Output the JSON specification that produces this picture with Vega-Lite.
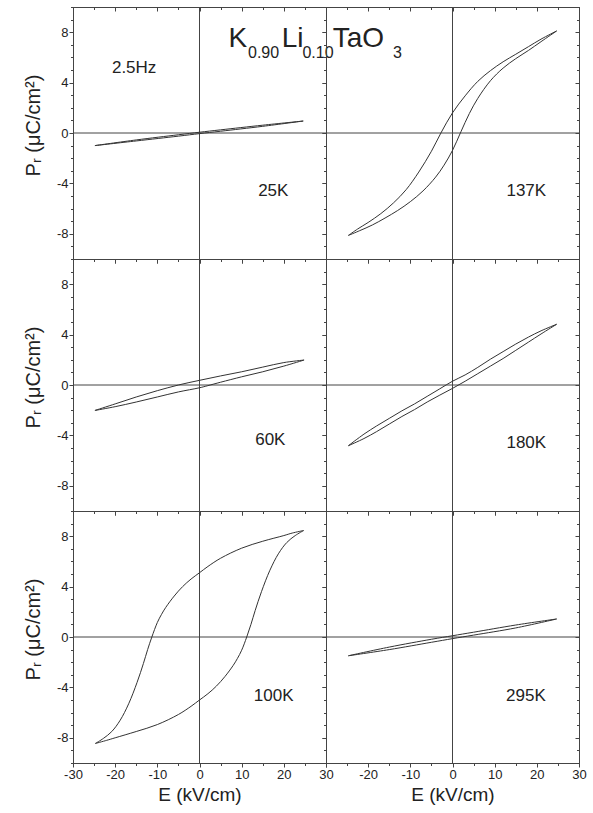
{
  "$schema": "https://vega.github.io/schema/vega-lite/v6.json",
  "background": "white",
  "padding": {"left": 22, "top": 0, "right": 5, "bottom": 5},
  "datasets": {
    "loops": [
      {"T":"25K","branch":"u","i":0,"E":24.6,"P":0.95},
      {"T":"25K","branch":"u","i":1,"E":15,"P":0.62},
      {"T":"25K","branch":"u","i":2,"E":5,"P":0.25},
      {"T":"25K","branch":"u","i":3,"E":0,"P":0.06},
      {"T":"25K","branch":"u","i":4,"E":-5,"P":-0.14},
      {"T":"25K","branch":"u","i":5,"E":-15,"P":-0.55},
      {"T":"25K","branch":"u","i":6,"E":-24.8,"P":-1.0},
      {"T":"25K","branch":"l","i":7,"E":-24.8,"P":-1.0},
      {"T":"25K","branch":"l","i":8,"E":-15,"P":-0.63},
      {"T":"25K","branch":"l","i":9,"E":-5,"P":-0.25},
      {"T":"25K","branch":"l","i":10,"E":0,"P":-0.05},
      {"T":"25K","branch":"l","i":11,"E":5,"P":0.14},
      {"T":"25K","branch":"l","i":12,"E":15,"P":0.53},
      {"T":"25K","branch":"l","i":13,"E":24.6,"P":0.95},

      {"T":"60K","branch":"u","i":0,"E":24.8,"P":1.98},
      {"T":"60K","branch":"u","i":1,"E":20,"P":1.78},
      {"T":"60K","branch":"u","i":2,"E":15,"P":1.42},
      {"T":"60K","branch":"u","i":3,"E":10,"P":1.05},
      {"T":"60K","branch":"u","i":4,"E":5,"P":0.72},
      {"T":"60K","branch":"u","i":5,"E":0,"P":0.37},
      {"T":"60K","branch":"u","i":6,"E":-5,"P":0.0},
      {"T":"60K","branch":"u","i":7,"E":-10,"P":-0.45},
      {"T":"60K","branch":"u","i":8,"E":-15,"P":-0.95},
      {"T":"60K","branch":"u","i":9,"E":-20,"P":-1.5},
      {"T":"60K","branch":"u","i":10,"E":-24.8,"P":-2.02},
      {"T":"60K","branch":"l","i":11,"E":-24.8,"P":-2.02},
      {"T":"60K","branch":"l","i":12,"E":-20,"P":-1.72},
      {"T":"60K","branch":"l","i":13,"E":-15,"P":-1.35},
      {"T":"60K","branch":"l","i":14,"E":-10,"P":-0.95},
      {"T":"60K","branch":"l","i":15,"E":-5,"P":-0.55},
      {"T":"60K","branch":"l","i":16,"E":0,"P":-0.22},
      {"T":"60K","branch":"l","i":17,"E":2,"P":-0.05},
      {"T":"60K","branch":"l","i":18,"E":5,"P":0.22},
      {"T":"60K","branch":"l","i":19,"E":10,"P":0.65},
      {"T":"60K","branch":"l","i":20,"E":15,"P":1.05},
      {"T":"60K","branch":"l","i":21,"E":20,"P":1.5},
      {"T":"60K","branch":"l","i":22,"E":24.8,"P":1.98},

      {"T":"100K","branch":"u","i":0,"E":24.7,"P":8.45},
      {"T":"100K","branch":"u","i":1,"E":22,"P":8.25},
      {"T":"100K","branch":"u","i":2,"E":20,"P":8.05},
      {"T":"100K","branch":"u","i":3,"E":15,"P":7.6},
      {"T":"100K","branch":"u","i":4,"E":10,"P":7.05},
      {"T":"100K","branch":"u","i":5,"E":5,"P":6.25},
      {"T":"100K","branch":"u","i":6,"E":2,"P":5.6},
      {"T":"100K","branch":"u","i":7,"E":0,"P":5.1},
      {"T":"100K","branch":"u","i":8,"E":-2,"P":4.6},
      {"T":"100K","branch":"u","i":9,"E":-4,"P":4.0},
      {"T":"100K","branch":"u","i":10,"E":-6,"P":3.25},
      {"T":"100K","branch":"u","i":11,"E":-8,"P":2.35},
      {"T":"100K","branch":"u","i":12,"E":-9,"P":1.8},
      {"T":"100K","branch":"u","i":13,"E":-10,"P":1.15},
      {"T":"100K","branch":"u","i":14,"E":-11.3,"P":0},
      {"T":"100K","branch":"u","i":15,"E":-12.3,"P":-1.0},
      {"T":"100K","branch":"u","i":16,"E":-13.3,"P":-2.1},
      {"T":"100K","branch":"u","i":17,"E":-14.8,"P":-3.6},
      {"T":"100K","branch":"u","i":18,"E":-16.8,"P":-5.3},
      {"T":"100K","branch":"u","i":19,"E":-18.8,"P":-6.6},
      {"T":"100K","branch":"u","i":20,"E":-20.8,"P":-7.5},
      {"T":"100K","branch":"u","i":21,"E":-22.8,"P":-8.05},
      {"T":"100K","branch":"u","i":22,"E":-24.7,"P":-8.45},
      {"T":"100K","branch":"l","i":23,"E":-24.7,"P":-8.45},
      {"T":"100K","branch":"l","i":24,"E":-22,"P":-8.2},
      {"T":"100K","branch":"l","i":25,"E":-20,"P":-8.0},
      {"T":"100K","branch":"l","i":26,"E":-15,"P":-7.5},
      {"T":"100K","branch":"l","i":27,"E":-10,"P":-6.95},
      {"T":"100K","branch":"l","i":28,"E":-5,"P":-6.15},
      {"T":"100K","branch":"l","i":29,"E":-2,"P":-5.5},
      {"T":"100K","branch":"l","i":30,"E":0,"P":-5.0},
      {"T":"100K","branch":"l","i":31,"E":2,"P":-4.5},
      {"T":"100K","branch":"l","i":32,"E":4,"P":-3.9},
      {"T":"100K","branch":"l","i":33,"E":6,"P":-3.15},
      {"T":"100K","branch":"l","i":34,"E":8,"P":-2.25},
      {"T":"100K","branch":"l","i":35,"E":9,"P":-1.7},
      {"T":"100K","branch":"l","i":36,"E":10,"P":-1.05},
      {"T":"100K","branch":"l","i":37,"E":11.2,"P":0},
      {"T":"100K","branch":"l","i":38,"E":12.2,"P":1.0},
      {"T":"100K","branch":"l","i":39,"E":13.2,"P":2.1},
      {"T":"100K","branch":"l","i":40,"E":14.7,"P":3.6},
      {"T":"100K","branch":"l","i":41,"E":16.7,"P":5.3},
      {"T":"100K","branch":"l","i":42,"E":18.7,"P":6.6},
      {"T":"100K","branch":"l","i":43,"E":20.7,"P":7.5},
      {"T":"100K","branch":"l","i":44,"E":22.7,"P":8.05},
      {"T":"100K","branch":"l","i":45,"E":24.7,"P":8.45},

      {"T":"137K","branch":"u","i":0,"E":24.7,"P":8.1},
      {"T":"137K","branch":"u","i":1,"E":21,"P":7.45},
      {"T":"137K","branch":"u","i":2,"E":18,"P":6.85},
      {"T":"137K","branch":"u","i":3,"E":15,"P":6.25},
      {"T":"137K","branch":"u","i":4,"E":12,"P":5.65},
      {"T":"137K","branch":"u","i":5,"E":9,"P":4.95},
      {"T":"137K","branch":"u","i":6,"E":6,"P":4.1},
      {"T":"137K","branch":"u","i":7,"E":3,"P":2.95},
      {"T":"137K","branch":"u","i":8,"E":0,"P":1.6},
      {"T":"137K","branch":"u","i":9,"E":-2.75,"P":0},
      {"T":"137K","branch":"u","i":10,"E":-5,"P":-1.45},
      {"T":"137K","branch":"u","i":11,"E":-8,"P":-3.1},
      {"T":"137K","branch":"u","i":12,"E":-11,"P":-4.5},
      {"T":"137K","branch":"u","i":13,"E":-14,"P":-5.55},
      {"T":"137K","branch":"u","i":14,"E":-17,"P":-6.4},
      {"T":"137K","branch":"u","i":15,"E":-20,"P":-7.1},
      {"T":"137K","branch":"u","i":16,"E":-22.5,"P":-7.62},
      {"T":"137K","branch":"u","i":17,"E":-24.7,"P":-8.13},
      {"T":"137K","branch":"l","i":18,"E":-24.7,"P":-8.13},
      {"T":"137K","branch":"l","i":19,"E":-22,"P":-7.75},
      {"T":"137K","branch":"l","i":20,"E":-19,"P":-7.3},
      {"T":"137K","branch":"l","i":21,"E":-16,"P":-6.75},
      {"T":"137K","branch":"l","i":22,"E":-13,"P":-6.15},
      {"T":"137K","branch":"l","i":23,"E":-10,"P":-5.45},
      {"T":"137K","branch":"l","i":24,"E":-7,"P":-4.6},
      {"T":"137K","branch":"l","i":25,"E":-4,"P":-3.5},
      {"T":"137K","branch":"l","i":26,"E":-2,"P":-2.55},
      {"T":"137K","branch":"l","i":27,"E":0,"P":-1.38},
      {"T":"137K","branch":"l","i":28,"E":2,"P":0.1},
      {"T":"137K","branch":"l","i":29,"E":4,"P":1.55},
      {"T":"137K","branch":"l","i":30,"E":6,"P":2.75},
      {"T":"137K","branch":"l","i":31,"E":9,"P":4.15},
      {"T":"137K","branch":"l","i":32,"E":12,"P":5.15},
      {"T":"137K","branch":"l","i":33,"E":15,"P":5.9},
      {"T":"137K","branch":"l","i":34,"E":18,"P":6.55},
      {"T":"137K","branch":"l","i":35,"E":21,"P":7.25},
      {"T":"137K","branch":"l","i":36,"E":24.7,"P":8.1},

      {"T":"180K","branch":"u","i":0,"E":24.7,"P":4.82},
      {"T":"180K","branch":"u","i":1,"E":21,"P":4.3},
      {"T":"180K","branch":"u","i":2,"E":18,"P":3.8},
      {"T":"180K","branch":"u","i":3,"E":15,"P":3.25},
      {"T":"180K","branch":"u","i":4,"E":12,"P":2.65},
      {"T":"180K","branch":"u","i":5,"E":9,"P":2.05},
      {"T":"180K","branch":"u","i":6,"E":6,"P":1.4},
      {"T":"180K","branch":"u","i":7,"E":3,"P":0.8},
      {"T":"180K","branch":"u","i":8,"E":0,"P":0.3},
      {"T":"180K","branch":"u","i":9,"E":-3,"P":-0.3},
      {"T":"180K","branch":"u","i":10,"E":-6,"P":-0.9},
      {"T":"180K","branch":"u","i":11,"E":-9,"P":-1.5},
      {"T":"180K","branch":"u","i":12,"E":-12,"P":-2.05},
      {"T":"180K","branch":"u","i":13,"E":-15,"P":-2.65},
      {"T":"180K","branch":"u","i":14,"E":-18,"P":-3.25},
      {"T":"180K","branch":"u","i":15,"E":-21,"P":-3.9},
      {"T":"180K","branch":"u","i":16,"E":-24.7,"P":-4.82},
      {"T":"180K","branch":"l","i":17,"E":-24.7,"P":-4.82},
      {"T":"180K","branch":"l","i":18,"E":-21,"P":-4.25},
      {"T":"180K","branch":"l","i":19,"E":-18,"P":-3.7},
      {"T":"180K","branch":"l","i":20,"E":-15,"P":-3.1},
      {"T":"180K","branch":"l","i":21,"E":-12,"P":-2.5},
      {"T":"180K","branch":"l","i":22,"E":-9,"P":-1.95},
      {"T":"180K","branch":"l","i":23,"E":-6,"P":-1.35},
      {"T":"180K","branch":"l","i":24,"E":-3,"P":-0.8},
      {"T":"180K","branch":"l","i":25,"E":0,"P":-0.27},
      {"T":"180K","branch":"l","i":26,"E":3,"P":0.3},
      {"T":"180K","branch":"l","i":27,"E":6,"P":0.9},
      {"T":"180K","branch":"l","i":28,"E":9,"P":1.5},
      {"T":"180K","branch":"l","i":29,"E":12,"P":2.1},
      {"T":"180K","branch":"l","i":30,"E":15,"P":2.75},
      {"T":"180K","branch":"l","i":31,"E":18,"P":3.4},
      {"T":"180K","branch":"l","i":32,"E":21,"P":4.05},
      {"T":"180K","branch":"l","i":33,"E":24.7,"P":4.82},

      {"T":"295K","branch":"u","i":0,"E":24.7,"P":1.43},
      {"T":"295K","branch":"u","i":1,"E":15,"P":0.95},
      {"T":"295K","branch":"u","i":2,"E":5,"P":0.38},
      {"T":"295K","branch":"u","i":3,"E":0,"P":0.1},
      {"T":"295K","branch":"u","i":4,"E":-5,"P":-0.18},
      {"T":"295K","branch":"u","i":5,"E":-15,"P":-0.8},
      {"T":"295K","branch":"u","i":6,"E":-24.7,"P":-1.49},
      {"T":"295K","branch":"l","i":7,"E":-24.7,"P":-1.49},
      {"T":"295K","branch":"l","i":8,"E":-15,"P":-1.0},
      {"T":"295K","branch":"l","i":9,"E":-5,"P":-0.42},
      {"T":"295K","branch":"l","i":10,"E":0,"P":-0.13},
      {"T":"295K","branch":"l","i":11,"E":5,"P":0.15},
      {"T":"295K","branch":"l","i":12,"E":15,"P":0.72},
      {"T":"295K","branch":"l","i":13,"E":24.7,"P":1.43}
    ]
  },
  "config": {
    "view": {"stroke": "#444", "strokeWidth": 1},
    "concat": {"spacing": 0},
    "axis": {
      "grid": false,
      "domainColor": "#444",
      "tickColor": "#444",
      "labelColor": "#222",
      "labelFont": "Liberation Sans",
      "labelFontSize": 13,
      "titleFont": "Liberation Sans",
      "titleFontSize": 19,
      "titleFontWeight": "normal",
      "titleColor": "#222",
      "labelFlush": false,
      "labelOverlap": false,
      "labelPadding": 1
    }
  },
  "columns": 2,
  "spacing": 0,
  "bounds": "flush",
  "concat": [
    {
      "width": 253, "height": 252,
      "resolve": {"axis": {"x": "independent", "y": "independent"}},
      "layer": [
        {"data": {"values": [{}]}, "mark": {"type": "rule", "color": "#444", "strokeWidth": 1},
         "encoding": {"y": {"datum": 0, "type": "quantitative", "scale": {"domain": [-10, 10], "nice": false, "zero": false},
           "axis": {"orient": "right", "values": [-10,-9,-8,-7,-6,-5,-4,-3,-2,-1,0,1,2,3,4,5,6,7,8,9,10], "tickSize": {"condition": {"test": "datum.value % 4 === 0", "value": -4}, "value": -2.5}, "labels": false, "title": null}}}},
        {"data": {"values": [{}]}, "mark": {"type": "rule", "color": "#444", "strokeWidth": 1},
         "encoding": {"x": {"datum": 0, "type": "quantitative", "scale": {"domain": [-30, 30], "nice": false, "zero": false},
           "axis": {"orient": "top", "values": [-30,-25,-20,-15,-10,-5,0,5,10,15,20,25,30], "tickSize": {"condition": {"test": "datum.value % 10 === 0", "value": -4}, "value": -2.5}, "labels": false, "title": null}}}},
        {"data": {"name": "loops"}, "transform": [{"filter": "datum.T === '25K'"}],
         "mark": {"type": "line", "color": "#333", "strokeWidth": 1, "interpolate": "catmull-rom"},
         "encoding": {
           "x": {"field": "E", "type": "quantitative", "scale": {"domain": [-30, 30], "nice": false, "zero": false},
             "axis": {"orient": "bottom", "values": [-30,-25,-20,-15,-10,-5,0,5,10,15,20,25,30], "tickSize": {"condition": {"test": "datum.value % 10 === 0", "value": 4}, "value": 2.5}, "labels": false, "title": null}},
           "y": {"field": "P", "type": "quantitative", "scale": {"domain": [-10, 10], "nice": false, "zero": false},
             "axis": {"orient": "left", "values": [-10,-9,-8,-7,-6,-5,-4,-3,-2,-1,0,1,2,3,4,5,6,7,8,9,10], "tickSize": {"condition": {"test": "datum.value % 4 === 0", "value": 4}, "value": 2.5}, "labelExpr": "datum.value % 4 === 0 ? '' + datum.value : ''", "title": "Pᵣ (μC/cm²)", "titleFontSize": 20, "titlePadding": 13, "titleY": 118}},
           "detail": {"field": "branch"},
           "order": {"field": "i"}
         }},
        {"data": {"values": [{}]}, "mark": {"type": "text", "text": "2.5Hz", "font": "Liberation Sans", "fontSize": 17, "color": "#222", "align": "center", "baseline": "alphabetic"},
         "encoding": {"x": {"datum": -15.5, "type": "quantitative", "axis": null}, "y": {"datum": 4.8, "type": "quantitative", "axis": null}}},
        {"data": {"values": [{}]}, "mark": {"type": "text", "text": "25K", "font": "Liberation Sans", "fontSize": 17, "color": "#222", "align": "center", "baseline": "alphabetic"},
         "encoding": {"x": {"datum": 17.5, "type": "quantitative", "axis": null}, "y": {"datum": -5, "type": "quantitative", "axis": null}}},
        {"data": {"values": [{}]}, "mark": {"type": "text", "text": "K", "font": "Liberation Sans", "fontSize": 28, "color": "#222", "align": "left", "baseline": "alphabetic"},
         "encoding": {"x": {"datum": 6.9, "type": "quantitative", "axis": null}, "y": {"datum": 6.84, "type": "quantitative", "axis": null}}},
        {"data": {"values": [{}]}, "mark": {"type": "text", "text": "0.90", "font": "Liberation Sans", "fontSize": 16, "color": "#222", "align": "left", "baseline": "alphabetic"},
         "encoding": {"x": {"datum": 11.5, "type": "quantitative", "axis": null}, "y": {"datum": 5.99, "type": "quantitative", "axis": null}}},
        {"data": {"values": [{}]}, "mark": {"type": "text", "text": "Li", "font": "Liberation Sans", "fontSize": 28, "color": "#222", "align": "left", "baseline": "alphabetic"},
         "encoding": {"x": {"datum": 19.5, "type": "quantitative", "axis": null}, "y": {"datum": 6.84, "type": "quantitative", "axis": null}}},
        {"data": {"values": [{}]}, "mark": {"type": "text", "text": "0.10", "font": "Liberation Sans", "fontSize": 16, "color": "#222", "align": "left", "baseline": "alphabetic"},
         "encoding": {"x": {"datum": 24.4, "type": "quantitative", "axis": null}, "y": {"datum": 5.99, "type": "quantitative", "axis": null}}},
        {"data": {"values": [{}]}, "mark": {"type": "text", "text": "TaO", "font": "Liberation Sans", "fontSize": 28, "color": "#222", "align": "left", "baseline": "alphabetic"},
         "encoding": {"x": {"datum": 31.6, "type": "quantitative", "axis": null}, "y": {"datum": 6.84, "type": "quantitative", "axis": null}}},
        {"data": {"values": [{}]}, "mark": {"type": "text", "text": "3", "font": "Liberation Sans", "fontSize": 16, "color": "#222", "align": "left", "baseline": "alphabetic"},
         "encoding": {"x": {"datum": 45.9, "type": "quantitative", "axis": null}, "y": {"datum": 5.99, "type": "quantitative", "axis": null}}}
      ]
    },
    {
      "width": 253, "height": 252,
      "resolve": {"axis": {"x": "independent", "y": "independent"}},
      "layer": [
        {"data": {"values": [{}]}, "mark": {"type": "rule", "color": "#444", "strokeWidth": 1},
         "encoding": {"y": {"datum": 0, "type": "quantitative", "scale": {"domain": [-10, 10], "nice": false, "zero": false},
           "axis": {"orient": "right", "values": [-10,-9,-8,-7,-6,-5,-4,-3,-2,-1,0,1,2,3,4,5,6,7,8,9,10], "tickSize": {"condition": {"test": "datum.value % 4 === 0", "value": -4}, "value": -2.5}, "labels": false, "title": null}}}},
        {"data": {"values": [{}]}, "mark": {"type": "rule", "color": "#444", "strokeWidth": 1},
         "encoding": {"x": {"datum": 0, "type": "quantitative", "scale": {"domain": [-30, 30], "nice": false, "zero": false},
           "axis": {"orient": "top", "values": [-30,-25,-20,-15,-10,-5,0,5,10,15,20,25,30], "tickSize": {"condition": {"test": "datum.value % 10 === 0", "value": -4}, "value": -2.5}, "labels": false, "title": null}}}},
        {"data": {"name": "loops"}, "transform": [{"filter": "datum.T === '137K'"}],
         "mark": {"type": "line", "color": "#333", "strokeWidth": 1, "interpolate": "catmull-rom"},
         "encoding": {
           "x": {"field": "E", "type": "quantitative", "scale": {"domain": [-30, 30], "nice": false, "zero": false},
             "axis": {"orient": "bottom", "values": [-30,-25,-20,-15,-10,-5,0,5,10,15,20,25,30], "tickSize": {"condition": {"test": "datum.value % 10 === 0", "value": 4}, "value": 2.5}, "labels": false, "title": null}},
           "y": {"field": "P", "type": "quantitative", "scale": {"domain": [-10, 10], "nice": false, "zero": false},
             "axis": {"orient": "left", "values": [-10,-9,-8,-7,-6,-5,-4,-3,-2,-1,0,1,2,3,4,5,6,7,8,9,10], "tickSize": {"condition": {"test": "datum.value % 4 === 0", "value": 4}, "value": 2.5}, "labels": false, "title": null}},
           "detail": {"field": "branch"},
           "order": {"field": "i"}
         }},
        {"data": {"values": [{}]}, "mark": {"type": "text", "text": "137K", "font": "Liberation Sans", "fontSize": 17, "color": "#222", "align": "center", "baseline": "alphabetic"},
         "encoding": {"x": {"datum": 17.5, "type": "quantitative", "axis": null}, "y": {"datum": -5, "type": "quantitative", "axis": null}}}
      ]
    },
    {
      "width": 253, "height": 252,
      "resolve": {"axis": {"x": "independent", "y": "independent"}},
      "layer": [
        {"data": {"values": [{}]}, "mark": {"type": "rule", "color": "#444", "strokeWidth": 1},
         "encoding": {"y": {"datum": 0, "type": "quantitative", "scale": {"domain": [-10, 10], "nice": false, "zero": false},
           "axis": {"orient": "right", "values": [-10,-9,-8,-7,-6,-5,-4,-3,-2,-1,0,1,2,3,4,5,6,7,8,9,10], "tickSize": {"condition": {"test": "datum.value % 4 === 0", "value": -4}, "value": -2.5}, "labels": false, "title": null}}}},
        {"data": {"values": [{}]}, "mark": {"type": "rule", "color": "#444", "strokeWidth": 1},
         "encoding": {"x": {"datum": 0, "type": "quantitative", "scale": {"domain": [-30, 30], "nice": false, "zero": false},
           "axis": {"orient": "top", "values": [-30,-25,-20,-15,-10,-5,0,5,10,15,20,25,30], "tickSize": {"condition": {"test": "datum.value % 10 === 0", "value": -4}, "value": -2.5}, "labels": false, "title": null}}}},
        {"data": {"name": "loops"}, "transform": [{"filter": "datum.T === '60K'"}],
         "mark": {"type": "line", "color": "#333", "strokeWidth": 1, "interpolate": "catmull-rom"},
         "encoding": {
           "x": {"field": "E", "type": "quantitative", "scale": {"domain": [-30, 30], "nice": false, "zero": false},
             "axis": {"orient": "bottom", "values": [-30,-25,-20,-15,-10,-5,0,5,10,15,20,25,30], "tickSize": {"condition": {"test": "datum.value % 10 === 0", "value": 4}, "value": 2.5}, "labels": false, "title": null}},
           "y": {"field": "P", "type": "quantitative", "scale": {"domain": [-10, 10], "nice": false, "zero": false},
             "axis": {"orient": "left", "values": [-10,-9,-8,-7,-6,-5,-4,-3,-2,-1,0,1,2,3,4,5,6,7,8,9,10], "tickSize": {"condition": {"test": "datum.value % 4 === 0", "value": 4}, "value": 2.5}, "labelExpr": "datum.value % 4 === 0 ? '' + datum.value : ''", "title": "Pᵣ (μC/cm²)", "titleFontSize": 20, "titlePadding": 13, "titleY": 118}},
           "detail": {"field": "branch"},
           "order": {"field": "i"}
         }},
        {"data": {"values": [{}]}, "mark": {"type": "text", "text": "60K", "font": "Liberation Sans", "fontSize": 17, "color": "#222", "align": "center", "baseline": "alphabetic"},
         "encoding": {"x": {"datum": 16.8, "type": "quantitative", "axis": null}, "y": {"datum": -4.8, "type": "quantitative", "axis": null}}}
      ]
    },
    {
      "width": 253, "height": 252,
      "resolve": {"axis": {"x": "independent", "y": "independent"}},
      "layer": [
        {"data": {"values": [{}]}, "mark": {"type": "rule", "color": "#444", "strokeWidth": 1},
         "encoding": {"y": {"datum": 0, "type": "quantitative", "scale": {"domain": [-10, 10], "nice": false, "zero": false},
           "axis": {"orient": "right", "values": [-10,-9,-8,-7,-6,-5,-4,-3,-2,-1,0,1,2,3,4,5,6,7,8,9,10], "tickSize": {"condition": {"test": "datum.value % 4 === 0", "value": -4}, "value": -2.5}, "labels": false, "title": null}}}},
        {"data": {"values": [{}]}, "mark": {"type": "rule", "color": "#444", "strokeWidth": 1},
         "encoding": {"x": {"datum": 0, "type": "quantitative", "scale": {"domain": [-30, 30], "nice": false, "zero": false},
           "axis": {"orient": "top", "values": [-30,-25,-20,-15,-10,-5,0,5,10,15,20,25,30], "tickSize": {"condition": {"test": "datum.value % 10 === 0", "value": -4}, "value": -2.5}, "labels": false, "title": null}}}},
        {"data": {"name": "loops"}, "transform": [{"filter": "datum.T === '180K'"}],
         "mark": {"type": "line", "color": "#333", "strokeWidth": 1, "interpolate": "catmull-rom"},
         "encoding": {
           "x": {"field": "E", "type": "quantitative", "scale": {"domain": [-30, 30], "nice": false, "zero": false},
             "axis": {"orient": "bottom", "values": [-30,-25,-20,-15,-10,-5,0,5,10,15,20,25,30], "tickSize": {"condition": {"test": "datum.value % 10 === 0", "value": 4}, "value": 2.5}, "labels": false, "title": null}},
           "y": {"field": "P", "type": "quantitative", "scale": {"domain": [-10, 10], "nice": false, "zero": false},
             "axis": {"orient": "left", "values": [-10,-9,-8,-7,-6,-5,-4,-3,-2,-1,0,1,2,3,4,5,6,7,8,9,10], "tickSize": {"condition": {"test": "datum.value % 4 === 0", "value": 4}, "value": 2.5}, "labels": false, "title": null}},
           "detail": {"field": "branch"},
           "order": {"field": "i"}
         }},
        {"data": {"values": [{}]}, "mark": {"type": "text", "text": "180K", "font": "Liberation Sans", "fontSize": 17, "color": "#222", "align": "center", "baseline": "alphabetic"},
         "encoding": {"x": {"datum": 17.5, "type": "quantitative", "axis": null}, "y": {"datum": -5, "type": "quantitative", "axis": null}}}
      ]
    },
    {
      "width": 253, "height": 252,
      "resolve": {"axis": {"x": "independent", "y": "independent"}},
      "layer": [
        {"data": {"values": [{}]}, "mark": {"type": "rule", "color": "#444", "strokeWidth": 1},
         "encoding": {"y": {"datum": 0, "type": "quantitative", "scale": {"domain": [-10, 10], "nice": false, "zero": false},
           "axis": {"orient": "right", "values": [-10,-9,-8,-7,-6,-5,-4,-3,-2,-1,0,1,2,3,4,5,6,7,8,9,10], "tickSize": {"condition": {"test": "datum.value % 4 === 0", "value": -4}, "value": -2.5}, "labels": false, "title": null}}}},
        {"data": {"values": [{}]}, "mark": {"type": "rule", "color": "#444", "strokeWidth": 1},
         "encoding": {"x": {"datum": 0, "type": "quantitative", "scale": {"domain": [-30, 30], "nice": false, "zero": false},
           "axis": {"orient": "top", "values": [-30,-25,-20,-15,-10,-5,0,5,10,15,20,25,30], "tickSize": {"condition": {"test": "datum.value % 10 === 0", "value": -4}, "value": -2.5}, "labels": false, "title": null}}}},
        {"data": {"name": "loops"}, "transform": [{"filter": "datum.T === '100K'"}],
         "mark": {"type": "line", "color": "#333", "strokeWidth": 1, "interpolate": "catmull-rom"},
         "encoding": {
           "x": {"field": "E", "type": "quantitative", "scale": {"domain": [-30, 30], "nice": false, "zero": false},
             "axis": {"orient": "bottom", "values": [-30,-25,-20,-15,-10,-5,0,5,10,15,20,25,30], "tickSize": {"condition": {"test": "datum.value % 10 === 0", "value": 4}, "value": 2.5}, "labelExpr": "datum.value % 10 === 0 ? '' + datum.value : ''", "title": "E (kV/cm)", "titlePadding": 4}},
           "y": {"field": "P", "type": "quantitative", "scale": {"domain": [-10, 10], "nice": false, "zero": false},
             "axis": {"orient": "left", "values": [-10,-9,-8,-7,-6,-5,-4,-3,-2,-1,0,1,2,3,4,5,6,7,8,9,10], "tickSize": {"condition": {"test": "datum.value % 4 === 0", "value": 4}, "value": 2.5}, "labelExpr": "datum.value % 4 === 0 ? '' + datum.value : ''", "title": "Pᵣ (μC/cm²)", "titleFontSize": 20, "titlePadding": 13, "titleY": 118}},
           "detail": {"field": "branch"},
           "order": {"field": "i"}
         }},
        {"data": {"values": [{}]}, "mark": {"type": "text", "text": "100K", "font": "Liberation Sans", "fontSize": 17, "color": "#222", "align": "center", "baseline": "alphabetic"},
         "encoding": {"x": {"datum": 17.6, "type": "quantitative", "axis": null}, "y": {"datum": -5.06, "type": "quantitative", "axis": null}}}
      ]
    },
    {
      "width": 253, "height": 252,
      "resolve": {"axis": {"x": "independent", "y": "independent"}},
      "layer": [
        {"data": {"values": [{}]}, "mark": {"type": "rule", "color": "#444", "strokeWidth": 1},
         "encoding": {"y": {"datum": 0, "type": "quantitative", "scale": {"domain": [-10, 10], "nice": false, "zero": false},
           "axis": {"orient": "right", "values": [-10,-9,-8,-7,-6,-5,-4,-3,-2,-1,0,1,2,3,4,5,6,7,8,9,10], "tickSize": {"condition": {"test": "datum.value % 4 === 0", "value": -4}, "value": -2.5}, "labels": false, "title": null}}}},
        {"data": {"values": [{}]}, "mark": {"type": "rule", "color": "#444", "strokeWidth": 1},
         "encoding": {"x": {"datum": 0, "type": "quantitative", "scale": {"domain": [-30, 30], "nice": false, "zero": false},
           "axis": {"orient": "top", "values": [-30,-25,-20,-15,-10,-5,0,5,10,15,20,25,30], "tickSize": {"condition": {"test": "datum.value % 10 === 0", "value": -4}, "value": -2.5}, "labels": false, "title": null}}}},
        {"data": {"name": "loops"}, "transform": [{"filter": "datum.T === '295K'"}],
         "mark": {"type": "line", "color": "#333", "strokeWidth": 1, "interpolate": "catmull-rom"},
         "encoding": {
           "x": {"field": "E", "type": "quantitative", "scale": {"domain": [-30, 30], "nice": false, "zero": false},
             "axis": {"orient": "bottom", "values": [-30,-25,-20,-15,-10,-5,0,5,10,15,20,25,30], "tickSize": {"condition": {"test": "datum.value % 10 === 0", "value": 4}, "value": 2.5}, "labelExpr": "datum.value % 10 === 0 && datum.value > -30 ? '' + datum.value : ''", "title": "E (kV/cm)", "titlePadding": 4}},
           "y": {"field": "P", "type": "quantitative", "scale": {"domain": [-10, 10], "nice": false, "zero": false},
             "axis": {"orient": "left", "values": [-10,-9,-8,-7,-6,-5,-4,-3,-2,-1,0,1,2,3,4,5,6,7,8,9,10], "tickSize": {"condition": {"test": "datum.value % 4 === 0", "value": 4}, "value": 2.5}, "labels": false, "title": null}},
           "detail": {"field": "branch"},
           "order": {"field": "i"}
         }},
        {"data": {"values": [{}]}, "mark": {"type": "text", "text": "295K", "font": "Liberation Sans", "fontSize": 17, "color": "#222", "align": "center", "baseline": "alphabetic"},
         "encoding": {"x": {"datum": 17.4, "type": "quantitative", "axis": null}, "y": {"datum": -5.06, "type": "quantitative", "axis": null}}}
      ]
    }
  ]
}
